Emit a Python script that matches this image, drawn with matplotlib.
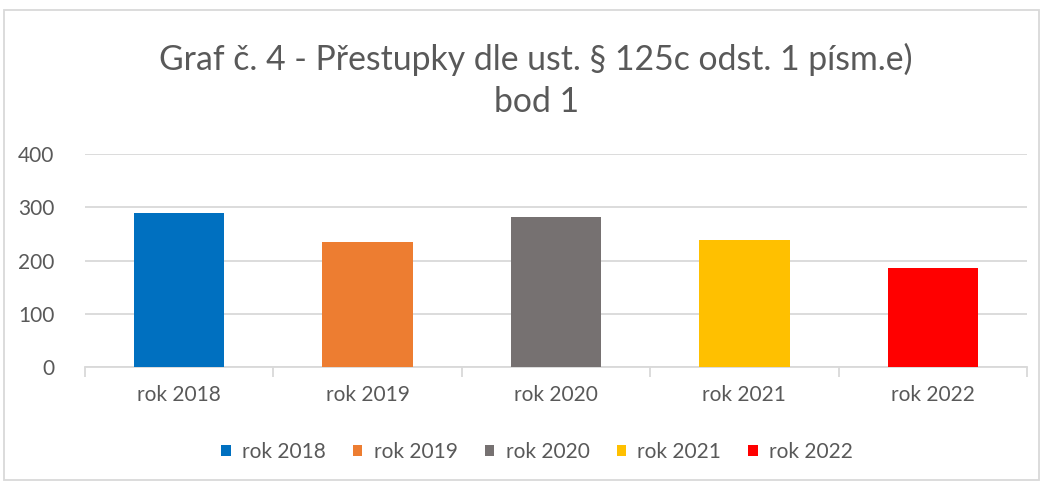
import matplotlib.pyplot as plt
from matplotlib.patches import Rectangle, Patch
import numpy as np

plt.rcParams['font.family'] = ['Lato', 'DejaVu Sans']

# data
years = ['rok 2018', 'rok 2019', 'rok 2020', 'rok 2021', 'rok 2022']
counts = [290, 235, 281, 238, 185]
colors = ['#0070C0', '#ED7D31', '#767171', '#FFC000', '#FF0000']
y_ticks = [0, 100, 200, 300, 400]

text_col = '#595959'
grid_col = '#D9D9D9'

fig = plt.figure(figsize=(10.43, 4.83), dpi=100)
ax = fig.add_axes([85 / 1043, 1 - 367 / 483, 942 / 1043, 213 / 483])

x = np.arange(len(years))
ax.bar(x, counts, width=0.48, color=colors, zorder=3)

ax.set_xlim(-0.5, len(years) - 0.5)
ax.set_ylim(0, 400)
ax.set_yticks(y_ticks)
ax.yaxis.grid(True, color=grid_col, linewidth=1.3, zorder=0)
ax.tick_params(axis='y', length=0, pad=22, labelsize=15, labelcolor=text_col)

ax.set_xticks(x)
ax.set_xticklabels(years)
ax.tick_params(axis='x', length=0, pad=13, labelsize=15, labelcolor=text_col)
# category boundary ticks
ax.set_xticks(np.arange(-0.5, len(years)), minor=True)
ax.tick_params(axis='x', which='minor', length=7, width=1.3, color=grid_col)

for s in ['top', 'right', 'left']:
    ax.spines[s].set_visible(False)
ax.spines['bottom'].set_color(grid_col)
ax.spines['bottom'].set_linewidth(1.3)

fig.text(0.514, 1 - 80 / 483, 'Graf č. 4 - Přestupky dle ust. § 125c odst. 1 písm.e)\nbod 1',
         ha='center', va='center', fontsize=24.3, color=text_col, linespacing=1.38)

handles = [Patch(facecolor=c, label=y) for c, y in zip(colors, years)]
fig.legend(handles=handles, loc='center', bbox_to_anchor=(0.515, 1 - 452 / 483), ncol=5,
           frameon=False, fontsize=15, labelcolor=text_col, handlelength=0.45,
           handleheight=0.45, handletextpad=0.55, columnspacing=1.3)

# outer chart border
fig.patches.append(Rectangle((4 / 1043, 3 / 483), 1 - 8 / 1043, 1 - 13 / 483,
                             transform=fig.transFigure, fill=False,
                             edgecolor=grid_col, linewidth=1.3))

fig.savefig('out.png', dpi=100)
